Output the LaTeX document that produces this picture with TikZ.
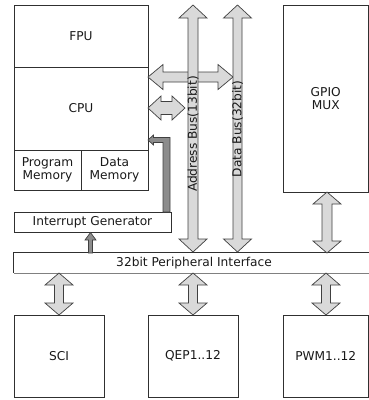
\documentclass[tikz,border=0pt]{standalone}
\usepackage{fontspec}
\setmainfont{DejaVu Sans}
\definecolor{linec}{HTML}{303030}
\definecolor{arrfill}{HTML}{D9D9D9}
\definecolor{arrline}{HTML}{404040}
\definecolor{intfill}{HTML}{8C8C8C}
\newcommand{\dvarrow}[6]{% x, ytop, ybot, shaft half, head half, head len
  \draw[blockarrow] (#1-#4,#2+#6) -- (#1-#5,#2+#6) -- (#1,#2) -- (#1+#5,#2+#6) -- (#1+#4,#2+#6)
   -- (#1+#4,#3-#6) -- (#1+#5,#3-#6) -- (#1,#3) -- (#1-#5,#3-#6) -- (#1-#4,#3-#6) -- cycle;}
\newcommand{\dharrow}[6]{% y, xleft, xright, shaft half, head half, head len
  \draw[blockarrow] (#2+#6,#1-#4) -- (#2+#6,#1-#5) -- (#2,#1) -- (#2+#6,#1+#5) -- (#2+#6,#1+#4)
   -- (#3-#6,#1+#4) -- (#3-#6,#1+#5) -- (#3,#1) -- (#3-#6,#1-#5) -- (#3-#6,#1-#4) -- cycle;}
\begin{document}
\begin{tikzpicture}[x=1pt,y=-1pt,
  box/.style={draw=linec, line width=0.8pt, inner sep=0pt, outer sep=0pt, align=center, font=\fontsize{12.2}{14.5}\selectfont, text=black!90},
  blockarrow/.style={draw=arrline, fill=arrfill, line width=0.7pt, line join=miter},
  intarrow/.style={draw=arrline, fill=intfill, line width=0.7pt},
  lbl/.style={font=\fontsize{12.2}{14.5}\selectfont, text=black!90, inner sep=0pt}]
\useasboundingbox (0,0) rectangle (369,400);
% main blocks
\node[box, minimum width=134pt, minimum height=62pt] (fpu) at (81,36) {FPU};
\node[box, minimum width=134pt, minimum height=83pt] (cpu) at (81,108.5) {CPU};
\node[box, minimum width=67pt, minimum height=40pt] (pm) at (47.5,170) {Program\\[-1.5pt]Memory};
\node[box, minimum width=67pt, minimum height=40pt] (dm) at (114.5,170) {Data\\[-1.5pt]Memory};
\node[box, minimum width=157pt, minimum height=20pt] (ig) at (92.5,222) {Interrupt Generator};
\node[box, minimum width=85.5pt, minimum height=187pt] (gpio) at (325.75,98.5) {GPIO\\[-1.5pt]MUX};
% peripheral interface (open to the right)
\node[lbl, minimum width=360pt, minimum height=20pt] (pi) at (194,263) {32bit Peripheral Interface};
\draw[linec, line width=0.8pt] (pi.north east) -- (pi.north west) -- (pi.south west);
\draw[black!50, line width=1.4pt] (pi.south west) -- (pi.south east);
% bottom blocks
\node[box, minimum width=90pt, minimum height=82pt] (sci) at (59,356) {SCI};
\node[box, minimum width=90pt, minimum height=82pt] (qep) at (193,356) {QEP1..12};
\node[box, minimum width=85.5pt, minimum height=82pt] (pwm) at (325.75,356) {PWM1..12};
% horizontal arrows to CPU
\dharrow{77}{148}{233}{5}{12.5}{15}
\dharrow{108}{148}{185}{6.5}{12}{13}
% buses
\dvarrow{193}{5}{252}{5}{14}{13}
\dvarrow{237.5}{5}{252}{4.5}{14}{13}
\node[lbl, rotate=90] (abus) at (193,134) {Address Bus(13bit)};
\node[lbl, rotate=90] (dbus) at (237.5,129) {Data Bus(32bit)};
% GPIO arrow
\dvarrow{327}{192}{253}{5}{14}{12}
% bottom arrows
\dvarrow{59}{273}{315}{4.5}{14}{12}
\dvarrow{193}{273}{315}{4.5}{14}{12}
\dvarrow{326}{273}{315}{4.5}{14}{12}
% interrupt arrow to CPU
\draw[intarrow] (163,212) -- (163,142.5) -- (153.5,142.5) -- (153.5,145) -- (148,140) -- (153.5,135) -- (153.5,137.5) -- (170,137.5) -- (170,212) -- cycle;
% small arrow from peripheral interface to interrupt generator
\draw[intarrow] (88.5,253) -- (88.5,240) -- (85,240) -- (90.5,232.5) -- (96,240) -- (92.5,240) -- (92.5,253) -- cycle;
\end{tikzpicture}
\end{document}
